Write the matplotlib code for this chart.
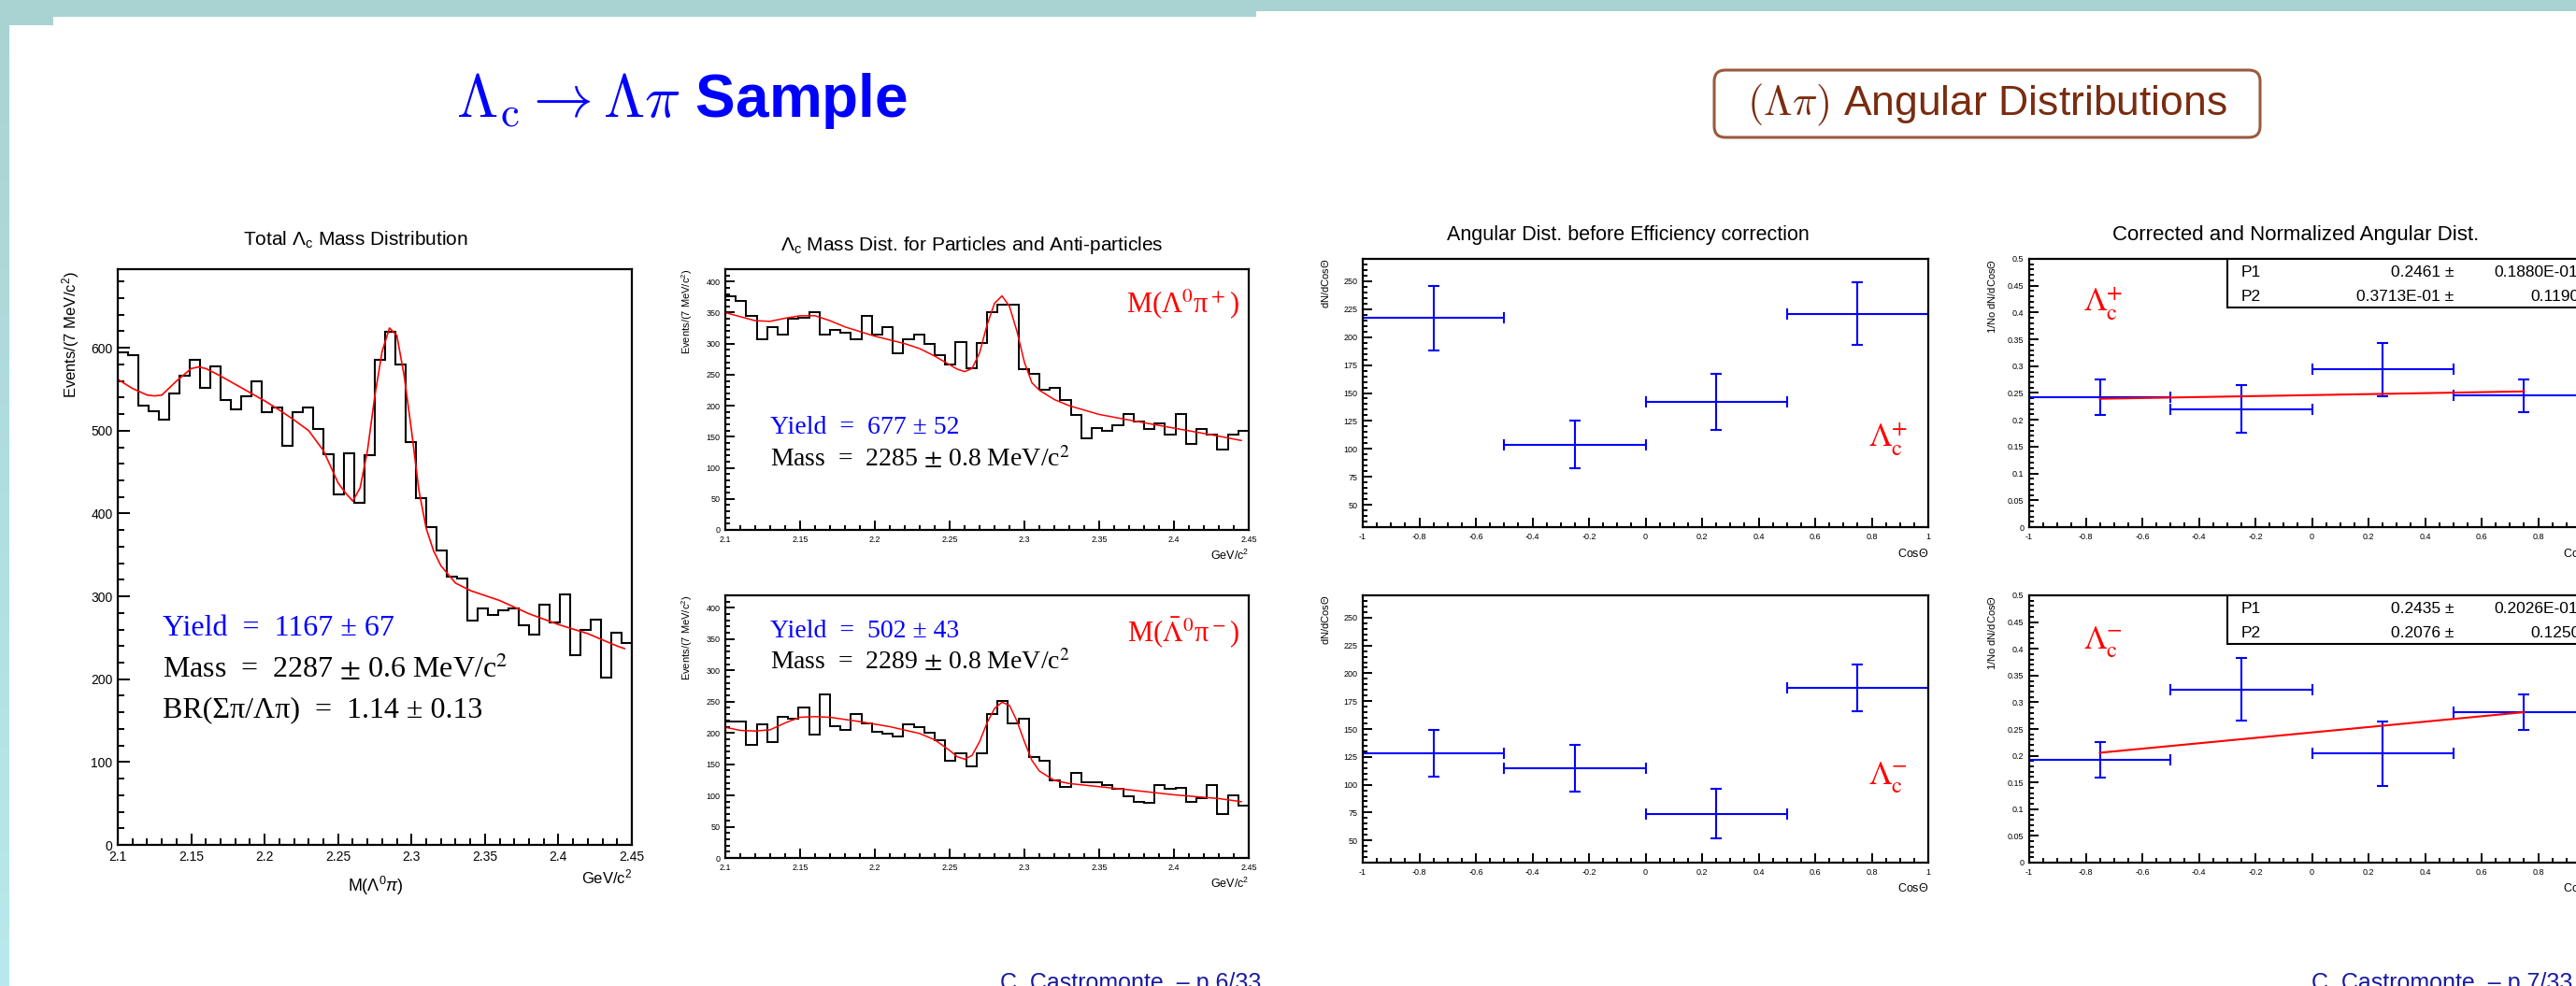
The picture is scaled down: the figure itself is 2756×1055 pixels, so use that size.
import numpy as np
import matplotlib
matplotlib.use('Agg')
import matplotlib.pyplot as plt
from matplotlib.patches import Rectangle, FancyBboxPatch
from matplotlib.ticker import MultipleLocator, FuncFormatter
from matplotlib.colors import LinearSegmentedColormap

W, H = 2756, 1055
plt.rcParams['font.family'] = ['Liberation Sans', 'DejaVu Sans']
plt.rcParams['mathtext.fontset'] = 'custom'
plt.rcParams['mathtext.rm'] = 'Liberation Sans'
plt.rcParams['mathtext.it'] = 'Liberation Sans:italic'
plt.rcParams['mathtext.bf'] = 'Liberation Sans:bold'

# ---------------- data ----------------
mass_lo, mass_hi, mass_nbins = 2.1, 2.45, 50

total_counts = [595, 591, 530, 524, 513, 545, 566, 586, 552, 578,
                537, 526, 541, 560, 522, 528, 482, 522, 528, 502,
                472, 423, 473, 413, 470, 585, 619, 580, 486, 419,
                384, 355, 324, 322, 271, 286, 278, 283, 286, 265,
                254, 290, 268, 302, 229, 260, 272, 202, 256, 244]
total_fit_x = [2.1, 2.11, 2.12, 2.125, 2.13, 2.14, 2.15, 2.155, 2.16, 2.17,
               2.18, 2.19, 2.2, 2.21, 2.22, 2.23, 2.24, 2.25, 2.255, 2.26,
               2.265, 2.27, 2.275, 2.28, 2.285, 2.29, 2.295, 2.3, 2.305, 2.31,
               2.315, 2.32, 2.33, 2.34, 2.36, 2.38, 2.4, 2.42, 2.44, 2.445]
total_fit_y = [562, 551, 543, 542, 543, 560, 575, 577, 575, 566,
               556, 546, 536, 525, 513, 500, 476, 437, 425, 415,
               431, 476, 542, 596, 624, 615, 566, 500, 428, 382,
               355, 337, 316, 307, 295, 279, 266, 255, 240, 237]

plus_counts = [376, 369, 344, 307, 327, 315, 340, 342, 351, 315,
               322, 318, 307, 344, 315, 327, 284, 307, 315, 299,
               281, 266, 303, 261, 301, 351, 363, 363, 259, 252,
               226, 229, 209, 185, 148, 164, 159, 168, 187, 174,
               163, 171, 153, 187, 138, 163, 153, 130, 153, 159]
plus_fit_x = [2.1, 2.12, 2.13, 2.14, 2.15, 2.16, 2.17, 2.18, 2.2, 2.22,
              2.23, 2.24, 2.25, 2.255, 2.26, 2.265, 2.27, 2.275, 2.28, 2.285,
              2.29, 2.295, 2.3, 2.305, 2.31, 2.32, 2.33, 2.35, 2.37, 2.4,
              2.43, 2.445]
plus_fit_y = [350, 337, 336, 341, 345, 345, 337, 327, 312, 300,
              292, 280, 266, 259, 255, 260, 285, 330, 365, 377,
              360, 320, 270, 237, 225, 210, 200, 186, 177, 164,
              151, 144]

minus_counts = [218, 218, 181, 213, 186, 225, 222, 241, 198, 261,
                211, 205, 230, 215, 202, 199, 195, 213, 210, 201,
                189, 155, 167, 147, 167, 230, 251, 215, 223, 162,
                155, 124, 114, 136, 121, 121, 116, 110, 98, 90,
                88, 116, 111, 112, 90, 96, 116, 70, 100, 83]
minus_fit_x = [2.1, 2.11, 2.12, 2.13, 2.14, 2.15, 2.16, 2.17, 2.19, 2.21,
               2.23, 2.24, 2.25, 2.255, 2.26, 2.265, 2.27, 2.275, 2.28, 2.285,
               2.29, 2.295, 2.3, 2.305, 2.31, 2.32, 2.33, 2.35, 2.37, 2.4,
               2.43, 2.445]
minus_fit_y = [209, 204, 203, 205, 216, 225, 226, 225, 218, 210,
               199, 189, 172, 162, 158, 164, 186, 216, 239, 249,
               244, 219, 186, 156, 139, 124, 119, 114, 109, 101,
               95, 90]

cos_centers = [-0.75, -0.25, 0.25, 0.75]
cos_halfwidth = [0.25, 0.25, 0.25, 0.25]
raw_plus = [217, 104, 142, 221]
raw_plus_err = [29, 21, 25, 28]
raw_minus = [128, 115, 74, 187]
raw_minus_err = [21, 21, 22, 21]
corr_plus = [0.242, 0.220, 0.294, 0.245]
corr_plus_err = [0.033, 0.044, 0.050, 0.031]
corr_minus = [0.192, 0.324, 0.204, 0.282]
corr_minus_err = [0.033, 0.059, 0.060, 0.033]
fit_plus_p1, fit_plus_p2 = 0.2461, 0.03713
fit_minus_p1, fit_minus_p2 = 0.2435, 0.2076
fit_plus_labels = [("P1", "0.2461 \u00b1", "0.1880E-01"), ("P2", "0.3713E-01 \u00b1", "0.1190")]
fit_minus_labels = [("P1", "0.2435 \u00b1", "0.2026E-01"), ("P2", "0.2076 \u00b1", "0.1250")]

# ---------------- figure ----------------
fig = plt.figure(figsize=(W / 100, H / 100), dpi=100)


def rect(x0, y0, x1, y1):
    return [x0 / W, 1 - y1 / H, (x1 - x0) / W, (y1 - y0) / H]


# background layer
bg = fig.add_axes([0, 0, 1, 1], zorder=-5)
teal = '#a9d3d3'
grad = np.linspace(0, 1, 256).reshape(-1, 1)
cm_strip = LinearSegmentedColormap.from_list('strip', [teal, '#b9e9ec'])
bg.imshow(grad, extent=(0, 10, H, 0), cmap=cm_strip, aspect='auto')
bg.add_patch(Rectangle((0, 0), W, 12, color=teal, lw=0))
bg.add_patch(Rectangle((0, 0), 1344, 18, color=teal, lw=0))
bg.add_patch(Rectangle((0, 0), 57, 27, color=teal, lw=0))
bg.set_xlim(0, W)
bg.set_ylim(H, 0)
bg.axis('off')


def style_axes(ax, xmaj, xmin, ymaj, ymin, lab_size, maj_len, min_len, fmt_x, fmt_y):
    for s in ax.spines.values():
        s.set_linewidth(1.6)
        s.set_color('black')
    ax.xaxis.set_major_locator(MultipleLocator(xmaj))
    ax.xaxis.set_minor_locator(MultipleLocator(xmin))
    ax.yaxis.set_major_locator(MultipleLocator(ymaj))
    ax.yaxis.set_minor_locator(MultipleLocator(ymin))
    ax.tick_params(which='both', direction='in', top=False, right=False,
                   width=1.4, labelsize=lab_size)
    ax.tick_params(which='major', length=maj_len, pad=4)
    ax.tick_params(which='minor', length=min_len)
    ax.xaxis.set_major_formatter(FuncFormatter(fmt_x))
    ax.yaxis.set_major_formatter(FuncFormatter(fmt_y))
    ax.set_facecolor('white')


def g(nd):
    return lambda v, p: f"{round(v, nd):g}"


edges = np.linspace(mass_lo, mass_hi, mass_nbins + 1)

# big total histogram
ax_t = fig.add_axes(rect(126, 288, 676, 904))
ax_t.stairs(total_counts, edges, color='black', lw=1.5)
ax_t.plot(total_fit_x, total_fit_y, color='red', lw=1.2)
ax_t.set_xlim(mass_lo, mass_hi)
ax_t.set_ylim(0, 695)
style_axes(ax_t, 0.05, 0.01, 100, 20, 10, 9, 5, g(3), g(0))

# middle histograms
ax_p = fig.add_axes(rect(776, 288, 1336, 567))
ax_p.stairs(plus_counts, edges, color='black', lw=1.4)
ax_p.plot(plus_fit_x, plus_fit_y, color='red', lw=1.1)
ax_p.set_xlim(mass_lo, mass_hi)
ax_p.set_ylim(0, 420)
style_axes(ax_p, 0.05, 0.01, 50, 10, 6.5, 7, 3.5, g(3), g(0))

ax_m = fig.add_axes(rect(776, 637, 1336, 918))
ax_m.stairs(minus_counts, edges, color='black', lw=1.4)
ax_m.plot(minus_fit_x, minus_fit_y, color='red', lw=1.1)
ax_m.set_xlim(mass_lo, mass_hi)
ax_m.set_ylim(0, 420)
style_axes(ax_m, 0.05, 0.01, 50, 10, 6.5, 7, 3.5, g(3), g(0))

# angular raw
eb_kw = dict(fmt='none', ecolor='#0000ff', elinewidth=1.5, capsize=4, capthick=1.5)
ax_a1 = fig.add_axes(rect(1458, 277, 2063, 564))
ax_a1.errorbar(cos_centers, raw_plus, xerr=cos_halfwidth, yerr=raw_plus_err, **eb_kw)
ax_a1.set_xlim(-1, 1)
ax_a1.set_ylim(30, 270)
style_axes(ax_a1, 0.2, 0.05, 25, 5, 6.5, 7, 3.5, g(2), g(0))

ax_a2 = fig.add_axes(rect(1458, 637, 2063, 923))
ax_a2.errorbar(cos_centers, raw_minus, xerr=cos_halfwidth, yerr=raw_minus_err, **eb_kw)
ax_a2.set_xlim(-1, 1)
ax_a2.set_ylim(30, 270)
style_axes(ax_a2, 0.2, 0.05, 25, 5, 6.5, 7, 3.5, g(2), g(0))

# angular corrected
fx = np.array([-0.75, 0.75])
ax_c1 = fig.add_axes(rect(2171, 277, 2776, 564))
ax_c1.errorbar(cos_centers, corr_plus, xerr=cos_halfwidth, yerr=corr_plus_err, **eb_kw)
ax_c1.plot(fx, fit_plus_p1 * (1 + fit_plus_p2 * fx), color='red', lw=1.5)
ax_c1.set_xlim(-1, 1)
ax_c1.set_ylim(0, 0.5)
style_axes(ax_c1, 0.2, 0.05, 0.05, 0.01, 6.5, 7, 3.5, g(2), g(2))

ax_c2 = fig.add_axes(rect(2171, 637, 2776, 923))
ax_c2.errorbar(cos_centers, corr_minus, xerr=cos_halfwidth, yerr=corr_minus_err, **eb_kw)
ax_c2.plot(fx, fit_minus_p1 * (1 + fit_minus_p2 * fx), color='red', lw=1.5)
ax_c2.set_xlim(-1, 1)
ax_c2.set_ylim(0, 0.5)
style_axes(ax_c2, 0.2, 0.05, 0.05, 0.01, 6.5, 7, 3.5, g(2), g(2))

# ---------------- overlay text ----------------
ov = fig.add_axes([0, 0, 1, 1], zorder=20)
ov.set_xlim(0, W)
ov.set_ylim(H, 0)
ov.axis('off')
ov.patch.set_alpha(0)

blue = '#0000ff'
red = '#ff0000'

# slide titles
ov.text(729, 108, r"$\Lambda_{\rm c} \rightarrow \Lambda\pi$ Sample", fontsize=46,
        fontweight='bold', color=blue, ha='center', va='center', math_fontfamily='cm')
ov.add_patch(FancyBboxPatch((1834, 75), 584, 72, boxstyle='round,pad=0,rounding_size=12',
                            fc='white', ec='#9a5a3c', lw=2.2))
ov.text(2126, 112, r"$(\Lambda\pi)$ Angular Distributions", fontsize=32,
        color='#7a2c10', ha='center', va='center', math_fontfamily='cm')

# plot titles
ov.text(380, 257, r"Total $\Lambda_{\rm c}$ Mass Distribution", fontsize=15, ha='center', va='center')
ov.text(1040, 263, r"$\Lambda_{\rm c}$ Mass Dist. for Particles and Anti-particles", fontsize=15,
        ha='center', va='center')
ov.text(1742, 252, "Angular Dist. before Efficiency correction", fontsize=15.5, ha='center', va='center')
ov.text(2456, 252, "Corrected and Normalized Angular Dist.", fontsize=16, ha='center', va='center')

# axis labels
ov.text(76, 290, r"Events/(7 MeV/c$^2$)", fontsize=12, rotation=90, ha='center', va='top')
ov.text(402, 948, r"M($\Lambda^0\pi$)", fontsize=13, ha='center', va='center')
ov.text(676, 938, r"GeV/c$^2$", fontsize=12, ha='right', va='center')
for ytop, ybot in [(288, 567), (637, 918)]:
    ov.text(735, ytop, r"Events/(7 MeV/c$^2$)", fontsize=8, rotation=90, ha='center', va='top')
    ov.text(1336, ybot + 27, r"GeV/c$^2$", fontsize=9, ha='right', va='center')
for ytop, ybot in [(277, 564), (637, 923)]:
    ov.text(1418, ytop, r"dN/dCos$\Theta$", fontsize=8, rotation=90, ha='center', va='top')
    ov.text(2063, ybot + 28, r"Cos$\Theta$", fontsize=9, ha='right', va='center')
    ov.text(2131, ytop, r"1/No dN/dCos$\Theta$", fontsize=8, rotation=90, ha='center', va='top')
    ov.text(2742, ybot + 28, r"Cos$\Theta$", fontsize=9, ha='left', va='center')

# big plot annotations
ser = dict(family=['Liberation Serif', 'DejaVu Serif'], math_fontfamily='stix')
ov.text(174, 673, "Yield  =  1167 \u00b1 67", fontsize=23, color=blue, ha='left', va='center', **ser)
ov.text(174, 715, r"Mass  =  2287 $\pm$ 0.6 MeV/c$^2$", fontsize=23, color='black', ha='left',
        va='center', **ser)
ov.text(174, 760, "BR(\u03a3\u03c0/\u039b\u03c0)  =  1.14 \u00b1 0.13", fontsize=23, color='black',
        ha='left', va='center', **ser)

# middle annotations
ov.text(824, 457, "Yield  =  677 \u00b1 52", fontsize=20, color=blue, ha='left', va='center', **ser)
ov.text(824, 491, r"Mass  =  2285 $\pm$ 0.8 MeV/c$^2$", fontsize=20, ha='left', va='center', **ser)
ov.text(1326, 325, "M(\u039b$^0$\u03c0$^+$)", fontsize=22, color=red, ha='right', va='center', **ser)
ov.text(824, 675, "Yield  =  502 \u00b1 43", fontsize=20, color=blue, ha='left', va='center', **ser)
ov.text(824, 708, r"Mass  =  2289 $\pm$ 0.8 MeV/c$^2$", fontsize=20, ha='left', va='center', **ser)
ov.text(1326, 677, "M($\\bar{\\mathrm{\u039b}}^0$\u03c0$^-$)", fontsize=22, color=red, ha='right',
        va='center', **ser)

# Lambda_c labels
lam_kw = dict(fontsize=25, color=red, ha='center', va='center', math_fontfamily='stix')
ov.text(2020, 470, r"$\Lambda_{\mathrm{c}}^{+}$", **lam_kw)
ov.text(2020, 832, r"$\Lambda_{\mathrm{c}}^{-}$", **lam_kw)
ov.text(2250, 325, r"$\Lambda_{\mathrm{c}}^{+}$", **lam_kw)
ov.text(2250, 687, r"$\Lambda_{\mathrm{c}}^{-}$", **lam_kw)

# fit parameter boxes
for ytop, rows in [(277, fit_plus_labels), (637, fit_minus_labels)]:
    ov.add_patch(Rectangle((2383, ytop), 420, 52, fc='white', ec='black', lw=1.5))
    for i, (nm, val, err) in enumerate(rows):
        yy = ytop + 15 + i * 26
        ov.text(2398, yy, nm, fontsize=12.5, ha='left', va='center')
        ov.text(2625, yy, val, fontsize=12.5, ha='right', va='center')
        ov.text(2668 if i == 0 else 2707, yy, err, fontsize=12.5, ha='left', va='center')

# footers
foot = ov.text(1070, 1040, "C. Castromonte  \u2013 p.6/33", fontsize=18, color='#1a1aa0',
               ha='left', va='top')
clip = Rectangle((0, 0), 1344, H, transform=ov.transData)
foot.set_clip_path(clip)
ov.text(2473, 1040, "C. Castromonte  \u2013 p.7/33", fontsize=18, color='#1a1aa0',
        ha='left', va='top')

fig.savefig('out.png', dpi=100)
